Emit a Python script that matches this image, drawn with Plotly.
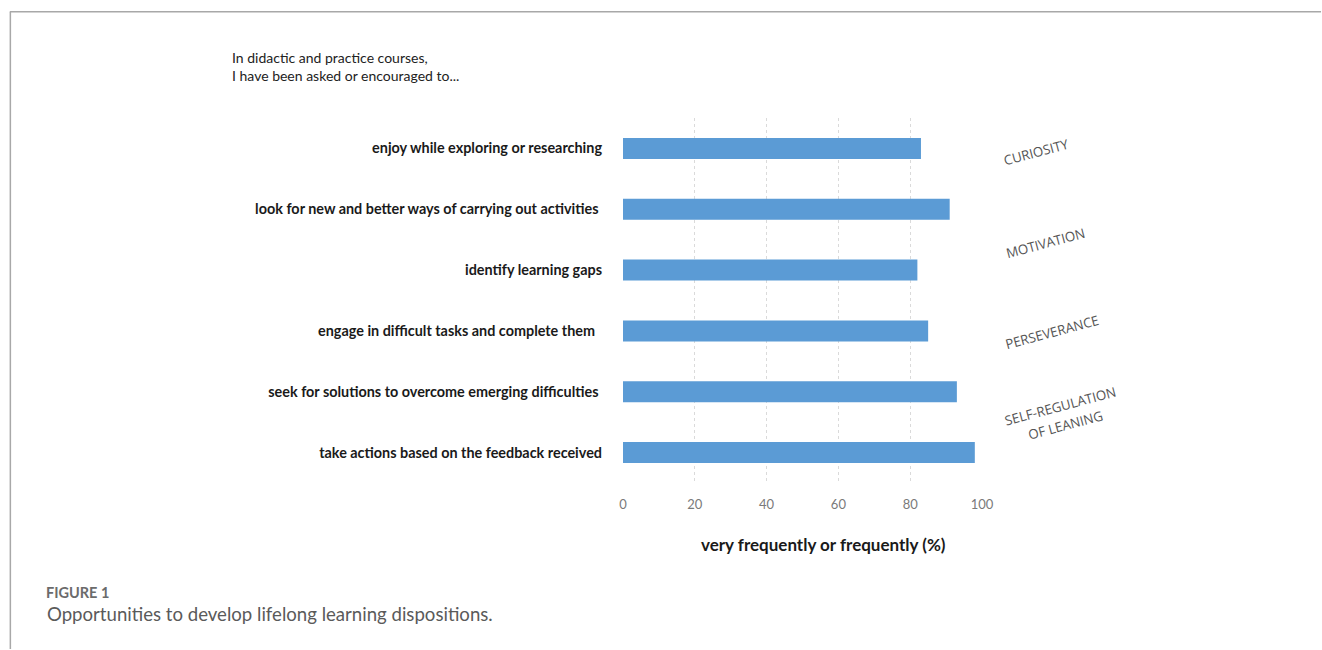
import plotly.graph_objects as go

# ---- data ----
categories = [
    "enjoy while exploring or researching",
    "look for new and better ways of carrying out activities ",
    "identify learning gaps",
    "engage in difficult tasks and complete them  ",
    "seek for solutions to overcome emerging difficulties ",
    "take actions based on the feedback received",
]
values = [83, 91, 82, 85, 93, 98]
x_ticks = [0, 20, 40, 60, 80, 100]
dispositions = ["CURIOSITY", "MOTIVATION", "PERSEVERANCE", "SELF-REGULATION", "OF LEANING"]
header_text = "In didactic and practice courses,<br>I have been asked or encouraged to..."
x_title = "very frequently or frequently (%)"
fig_label = "FIGURE 1"
caption = "Opportunities to develop lifelong learning dispositions."

W, H = 1322, 650
L, R = 623, 982.5
T, B = 117.5, 483.5

def px(xp):
    return (xp - L) / (R - L)

def py(yp):
    return (B - yp) / (B - T)

fig = go.Figure()
fig.add_trace(go.Bar(
    x=values, y=categories, orientation="h",
    marker=dict(color="#5B9BD5", line=dict(width=0)),
    width=0.345, hoverinfo="x+y",
))

fig.update_layout(
    width=W, height=H,
    margin=dict(l=L, r=W - R, t=T, b=H - B, pad=0),
    paper_bgcolor="white", plot_bgcolor="white",
    showlegend=False,
    font=dict(family="Lato", color="#222"),
    xaxis=dict(
        range=[0, 100], tickvals=x_ticks, showgrid=True,
        gridcolor="#dadada", griddash="dot", gridwidth=1,
        zeroline=False, showline=False, ticks="",
        tickfont=dict(family="Lato", size=13, color="#7a7a7a"),
        ticklabelstandoff=12,
    ),
    yaxis=dict(
        autorange="reversed", showgrid=False, zeroline=False, showline=False,
        ticks="", tickfont=dict(family="Lato", size=14.4, color="#1a1a1a", weight="bold"),
        ticklabelstandoff=20,
    ),
)

ann = []
# header
ann.append(dict(text=header_text, x=px(229), y=py(65.5), xref="paper", yref="paper",
                xanchor="left", yanchor="middle", align="left", showarrow=False,
                font=dict(family="Lato", size=14, color="#222")))
# x axis title
ann.append(dict(text="<b>" + x_title + "</b>", x=px(824), y=py(545), xref="paper", yref="paper",
                xanchor="center", yanchor="middle", showarrow=False,
                font=dict(family="Lato", size=17, color="#1a1a1a")))
# dispositions (rotated)
disp_pos = [(1037, 152), (1046, 243), (1053, 332), (1061, 406), (1066, 425)]
for t, (xx, yy) in zip(dispositions, disp_pos):
    ann.append(dict(text=t, x=px(xx), y=py(yy), xref="paper", yref="paper",
                    xanchor="center", yanchor="middle", align="left", showarrow=False,
                    textangle=-15,
                    font=dict(family="Open Sans", size=13.3, color="#555")))
# figure label & caption
ann.append(dict(text="<b>" + fig_label + "</b>", x=px(43), y=py(593.5), xref="paper", yref="paper",
                xanchor="left", yanchor="middle", showarrow=False,
                font=dict(family="Lato", size=14.5, color="#6b6b6b")))
ann.append(dict(text=caption, x=px(44), y=py(614.5), xref="paper", yref="paper",
                xanchor="left", yanchor="middle", showarrow=False,
                font=dict(family="Lato", size=18.6, color="#5a5a5a")))
fig.update_layout(annotations=ann)

# frame borders
fig.add_shape(type="line", xref="paper", yref="paper", x0=px(9), x1=px(1322), y0=py(11), y1=py(11),
              line=dict(color="#a8a8a8", width=1.5))
fig.add_shape(type="line", xref="paper", yref="paper", x0=px(9.5), x1=px(9.5), y0=py(11), y1=py(650),
              line=dict(color="#a8a8a8", width=1.5))

fig.write_html("out.html", config={"displayModeBar": False},
               post_script="document.body.style.margin='0px';document.body.style.overflow='hidden';")
